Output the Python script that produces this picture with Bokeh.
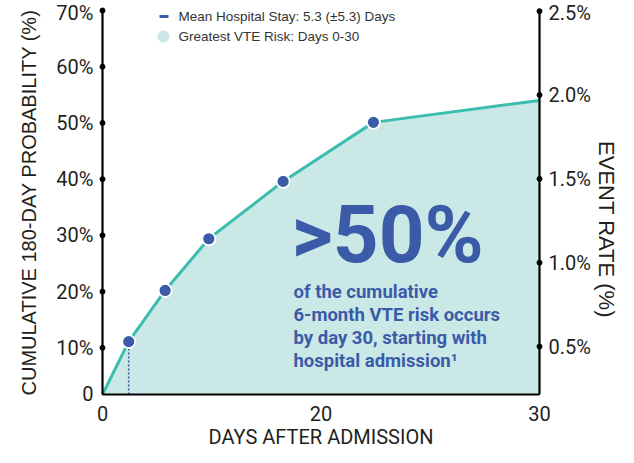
from bokeh.plotting import figure
from bokeh.models import Range1d, LinearAxis, FixedTicker
from bokeh.core.properties import value
from bokeh.embed import file_html
from bokeh.resources import INLINE

# ---------------- data ----------------
DAYS = [0, 1.8, 4.3, 7.3, 12.4, 18.6, 30]             # position along the drawn day axis
CUM_PROB = [1.7, 11.1, 20.2, 29.4, 39.6, 50.1, 54.0]  # cumulative 180-day probability (%)
MEAN_STAY_DAY = 1.8
MEAN_STAY_PROB = 11.1

X_TICKS = [0, 15, 30]
X_TICK_LABELS = ["0", "20", "30"]
Y_TICKS = [1.7, 10, 20, 30, 40, 50, 60, 70]
Y_TICK_LABELS = ["0", "10%", "20%", "30%", "40%", "50%", "60%", "70%"]
RATE_TICKS = [0.5, 1.0, 1.5, 2.0, 2.5]
RATE_TICK_LABELS = ["0.5%", "1.0%", "1.5%", "2.0%", "2.5%"]

LEGEND_LABELS = ["Mean Hospital Stay: 5.3 (\u00b15.3) Days", "Greatest VTE Risk: Days 0-30"]
BIG_TEXT = ">50%"
SUB_TEXT = ["of the cumulative", "6-month VTE risk occurs",
            "by day 30, starting with", "hospital admission\u00b9"]

# ---------------- styles ----------------
BLUE = "#3b5ba9"
TEAL = "#3dbdb0"
TEAL_FILL = "#c9e8e6"
INK = "#231f20"
W, H = 618, 447

# pixel helpers (picture coordinates -> data coordinates), for layout only
PX_PER_DAY = 437 / 30.0
PX_PER_PCT = 337.3 / 60.0
PX_PER_RATE = 167.65
def px2x(px):
    return (px - 102) / PX_PER_DAY
def py2y(py):
    return 10 + (347.3 - py) / PX_PER_PCT
def py2rate(py):
    return 0.5 + (346 - py) / PX_PER_RATE

p = figure(width=W, height=H,
           x_range=Range1d(px2x(0), px2x(W)), y_range=Range1d(py2y(H), py2y(0)),
           output_backend="svg", toolbar_location=None, min_border=0)
p.min_border_left = p.min_border_right = p.min_border_top = p.min_border_bottom = 0
p.extra_y_ranges = {"rate": Range1d(py2rate(H), py2rate(0))}
p.grid.visible = False
p.outline_line_color = None

# ---------------- axes ----------------
def style(ax):
    ax.axis_line_color = "black"
    ax.axis_line_width = 2.2
    ax.major_tick_in = 0
    ax.major_tick_out = 0
    ax.minor_tick_line_color = None
    ax.major_label_text_font = "Roboto"
    ax.major_label_text_font_size = "20px"
    ax.major_label_text_color = INK

xax = p.xaxis[0]
style(xax)
xax.fixed_location = CUM_PROB[0]
xax.bounds = (DAYS[0], DAYS[-1])
xax.ticker = FixedTicker(ticks=X_TICKS)
xax.major_label_overrides = dict(zip(X_TICKS, X_TICK_LABELS))
xax.major_label_standoff = 12
xax.axis_label = "DAYS AFTER ADMISSION"
xax.axis_label_text_font = "Roboto"
xax.axis_label_text_font_size = "20px"
xax.axis_label_text_font_style = "normal"
xax.axis_label_text_color = INK
xax.axis_label_standoff = 0

yax = p.yaxis[0]
style(yax)
yax.fixed_location = DAYS[0]
yax.bounds = (Y_TICKS[0], Y_TICKS[-1])
yax.ticker = FixedTicker(ticks=Y_TICKS)
yax.major_label_overrides = dict(zip(Y_TICKS, Y_TICK_LABELS))
yax.major_label_standoff = 9
yax.axis_label = "CUMULATIVE 180-DAY PROBABILITY (%)"
yax.axis_label_text_font = "Liberation Sans"
yax.axis_label_text_font_size = "20px"
yax.axis_label_text_font_style = "normal"
yax.axis_label_text_color = INK
yax.axis_label_standoff = 13

rax = LinearAxis(y_range_name="rate", ticker=FixedTicker(ticks=RATE_TICKS),
                 major_label_overrides=dict(zip(RATE_TICKS, RATE_TICK_LABELS)))
style(rax)
rax.axis_line_color = None
rax.fixed_location = DAYS[-1]
rax.bounds = (py2rate(455), RATE_TICKS[-1])
rax.major_label_standoff = 9
rax.axis_label = "EVENT RATE (%)"
rax.axis_label_text_font = "Liberation Sans"
rax.axis_label_text_font_size = "22px"
rax.axis_label_text_font_style = "normal"
rax.axis_label_text_color = INK
rax.axis_label_standoff = 0
p.add_layout(rax, "right")

# ---------------- area + curve ----------------
p.varea(x=DAYS, y1=CUM_PROB[0], y2=CUM_PROB, fill_color=TEAL_FILL)
p.segment(x0=[MEAN_STAY_DAY], y0=[CUM_PROB[0]], x1=[MEAN_STAY_DAY], y1=[MEAN_STAY_PROB],
          line_color=BLUE, line_width=1.6, line_dash="2 2")
p.line(x=DAYS, y=CUM_PROB, line_color=TEAL, line_width=3)
p.scatter(x=DAYS[1:-1], y=CUM_PROB[1:-1], size=13, fill_color=BLUE,
          line_color="white", line_width=1.8)

# right axis line and tick dots
p.segment(x0=[DAYS[-1]], y0=[CUM_PROB[0]], x1=[DAYS[-1]], y1=[Y_TICKS[-1]],
          line_color="black", line_width=2.2)
p.scatter(x=[DAYS[0]] * (len(Y_TICKS) - 1), y=Y_TICKS[1:], size=5, color="black")
p.scatter(x=[DAYS[-1]] * len(RATE_TICKS), y=RATE_TICKS, size=5, color="black",
          y_range_name="rate")

# ---------------- legend (manual) ----------------
p.segment(x0=[px2x(159)], y0=[py2y(16)], x1=[px2x(168)], y1=[py2y(16)],
          line_color=BLUE, line_width=3)
p.scatter(x=[px2x(163)], y=[py2y(36)], size=11, color=TEAL_FILL)
p.text(x=[px2x(178)] * 2, y=[py2y(16), py2y(36)], text=LEGEND_LABELS,
       text_font=value("Liberation Sans"), text_font_size="13.5px", text_color="#333333",
       text_baseline="middle")

# ---------------- callout text ----------------
p.text(x=[px2x(291)], y=[py2y(234)], text=[BIG_TEXT], text_font=value("Roboto"),
       text_font_style="bold", text_font_size="80px", text_color=BLUE,
       text_baseline="alphabetic")
p.text(x=[px2x(293)] * 4, y=[py2y(b) for b in (291, 314, 337, 360)], text=SUB_TEXT,
       text_font=value("Roboto"), text_font_style="bold", text_font_size="18.5px",
       text_color=BLUE, text_baseline="alphabetic")

open("out.html", "w").write(file_html(p, INLINE))
